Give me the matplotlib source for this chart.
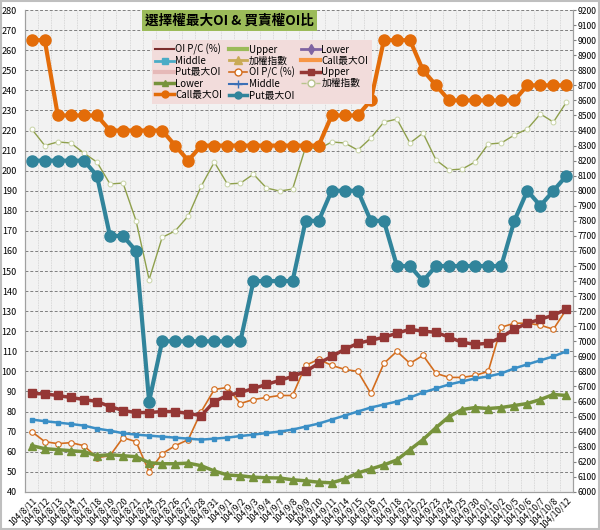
import matplotlib
matplotlib.use('Agg')
import matplotlib.pyplot as plt
from matplotlib.lines import Line2D
from matplotlib.patches import Rectangle
import numpy as np

plt.rcParams['font.family'] = ['Noto Sans CJK TC', 'DejaVu Sans']

dates = ['104/8/11', '104/8/12', '104/8/13', '104/8/14', '104/8/17', '104/8/18', '104/8/19',
         '104/8/20', '104/8/21', '104/8/24', '104/8/25', '104/8/26', '104/8/27', '104/8/28',
         '104/8/31', '104/9/1', '104/9/2', '104/9/3', '104/9/4', '104/9/7', '104/9/8',
         '104/9/9', '104/9/10', '104/9/11', '104/9/14', '104/9/15', '104/9/16', '104/9/17',
         '104/9/18', '104/9/21', '104/9/22', '104/9/23', '104/9/24', '104/9/25', '104/9/30',
         '104/10/1', '104/10/2', '104/10/5', '104/10/6', '104/10/7', '104/10/8', '104/10/12']

# left axis (%)
oi_pc = [70, 65, 64, 64.5, 63, 57, 58, 67, 65, 50, 59, 63, 66, 80, 91, 92, 84, 86, 87, 88,
         88, 103, 106, 103, 101, 100, 89, 104, 110, 104, 108, 99, 97, 97, 98, 100, 122, 124,
         124, 123, 121, 131]
upper = [89, 88.8, 88, 87, 86, 85, 82.5, 80.5, 79.5, 79.5, 80, 80, 79, 78, 85, 88, 89.5, 91.5,
         93.5, 95.5, 97.5, 100, 104, 107.5, 111, 114, 115.5, 117, 119, 121, 120, 119.5, 117,
         114.5, 113.5, 114, 117, 121, 124, 126, 128, 131]
middle = [76, 75.2, 74.5, 73.8, 73, 71.5, 70.5, 69.2, 68.5, 68, 67.5, 67, 66.5, 66, 66.5, 67,
          67.8, 68.5, 69.3, 70, 71, 72.5, 74, 76, 78, 80, 82, 83.5, 85, 87, 89.5, 91.5, 93.5,
          95, 96.5, 97.5, 99, 101.5, 103.5, 105.5, 107.5, 110]
lower = [63, 61.5, 61, 60.5, 60, 58, 58.5, 58, 57.5, 54.5, 54, 54, 54.3, 53, 50.4, 48.4, 48,
         47.3, 47, 46.9, 46, 45.5, 44.8, 44.5, 46.4, 49.4, 51.4, 53.4, 55.9, 61, 66, 72, 77.5,
         81, 82, 81.5, 82, 83, 84, 86, 88.5, 88]

# right axis (points)
taiex = [8410, 8300, 8324, 8317, 8250, 8190, 8045, 8051, 7800, 7410, 7690, 7733, 7832, 8031,
         8190, 8045, 8050, 8110, 8018, 7998, 8011, 8290, 8277, 8324, 8317, 8270, 8350, 8456,
         8476, 8317, 8383, 8204, 8138, 8144, 8191, 8310, 8317, 8370, 8410, 8510, 8456, 8589]
call_max = [9000, 9000, 8500, 8500, 8500, 8500, 8400, 8400, 8400, 8400, 8400, 8300, 8200, 8300,
            8300, 8300, 8300, 8300, 8300, 8300, 8300, 8300, 8300, 8500, 8500, 8500, 8600, 9000,
            9000, 9000, 8800, 8700, 8600, 8600, 8600, 8600, 8600, 8600, 8700, 8700, 8700, 8700]
put_max = [8200, 8200, 8200, 8200, 8200, 8100, 7700, 7700, 7600, 6600, 7000, 7000, 7000, 7000,
           7000, 7000, 7000, 7400, 7400, 7400, 7400, 7800, 7800, 8000, 8000, 8000, 7800, 7800,
           7500, 7500, 7400, 7500, 7500, 7500, 7500, 7500, 7500, 7800, 8000, 7900, 8000, 8100]

x = np.arange(len(dates))

fig = plt.figure(figsize=(6, 5.3), dpi=100)
ax = fig.add_axes([0.042, 0.072, 0.913, 0.909])
ax2 = ax.twinx()

ax.set_facecolor('#f2f2f2')
ax.set_xlim(-0.5, len(dates) - 0.5)
ax.set_ylim(40, 280)
ax.set_yticks(np.arange(40, 281, 10))
ax2.set_ylim(6000, 9200)
ax2.set_yticks(np.arange(6000, 9201, 100))

ax.set_xticks(x)
ax.set_xticklabels(dates, rotation=45, ha='right', rotation_mode='anchor', fontsize=6.2)
ax.set_xticks(np.arange(-0.5, len(dates), 1), minor=True)
ax.tick_params(axis='x', which='both', length=0, pad=3)
ax.tick_params(axis='y', labelsize=6.5, length=0, pad=6)
ax2.tick_params(axis='y', labelsize=6.2, length=2, color='#808080', pad=1.5)

ax.grid(axis='y', which='major', color='#7f7f7f', linestyle=(0, (3, 2)), linewidth=0.7)
ax.grid(axis='x', which='minor', color='#cfcfcf', linestyle=(0, (1, 1)), linewidth=0.6)
ax.set_axisbelow(True)
for a in (ax, ax2):
    a.spines['top'].set_visible(False)
    for s in ('left', 'right', 'bottom'):
        a.spines[s].set_color('#a0a0a0')

# left axis series
ax.plot(x, oi_pc, color='#d36d1e', lw=1.2, marker='o', ms=4, mfc='white', mec='#d36d1e', mew=0.8)
ax.plot(x, middle, color='#3b8fc6', lw=1.8, marker='s', ms=3.5)
ax.plot(x, lower, color='#77933c', lw=2.5, marker='^', ms=6)
ax.plot(x, upper, color='#953735', lw=2.5, marker='s', ms=6)

# right axis series
ax2.plot(x, taiex, color='#8fa04c', lw=1.0, marker='o', ms=3.5, mfc='white', mec='#c8d3a6', mew=0.7)
ax2.plot(x, put_max, color='#31849b', lw=3, marker='o', ms=8)
ax2.plot(x, call_max, color='#e36c09', lw=3, marker='o', ms=8)

handles = [
    Line2D([], [], color='#7b2c2c', lw=1.5),
    Line2D([], [], color='#9bbb59', lw=3),
    Line2D([], [], color='#8064a2', lw=2, marker='d', ms=5),
    Line2D([], [], color='#4bacc6', lw=2, marker='s', ms=5),
    Line2D([], [], color='#c9aa55', lw=2, marker='^', ms=6),
    Line2D([], [], color='#f79646', lw=3),
    Line2D([], [], color='#e6b9b8', lw=3),
    Line2D([], [], color='#d36d1e', lw=1.2, marker='o', ms=5, mfc='white'),
    Line2D([], [], color='#953735', lw=2.5, marker='s', ms=5),
    Line2D([], [], color='#77933c', lw=2.5, marker='^', ms=5),
    Line2D([], [], color='#3b6fb6', lw=1.5, marker='+', ms=6),
    Line2D([], [], color='#b7c48c', lw=1, ls='--', marker='o', ms=5, mfc='white'),
    Line2D([], [], color='#e36c09', lw=2.5, marker='o', ms=5),
    Line2D([], [], color='#31849b', lw=2.5, marker='o', ms=5),
]
labels = ['OI P/C (%)', 'Upper', 'Lower', 'Middle', '加權指數', 'Call最大OI', 'Put最大OI',
          'OI P/C (%)', 'Upper', 'Lower', 'Middle', '加權指數', 'Call最大OI', 'Put最大OI']
# matplotlib fills legend columns first; reorder so it reads row by row
order = [0, 3, 6, 9, 12, 1, 4, 7, 10, 13, 2, 5, 8, 11]
leg = fig.legend([handles[i] for i in order], [labels[i] for i in order],
                 loc='upper left', bbox_to_anchor=(0.245, 0.933), ncol=3, fontsize=7,
                 frameon=True, facecolor='#f2dcdb', edgecolor='none', framealpha=1,
                 handlelength=1.9, handletextpad=0.15, columnspacing=0.7, labelspacing=0.12,
                 borderpad=0.35, fancybox=False)

fig.text(0.242, 0.975, '選擇權最大OI & 買賣權OI比', fontsize=9.8, fontweight='bold',
         va='top', ha='left',
         bbox=dict(facecolor='#9bbb59', edgecolor='none', boxstyle='square,pad=0.25'))

fig.patches.append(Rectangle((0.002, 0.002), 0.996, 0.996, transform=fig.transFigure,
                             fill=False, edgecolor='#bfbfbf', lw=1.5))

fig.savefig('out.png', dpi=100)
